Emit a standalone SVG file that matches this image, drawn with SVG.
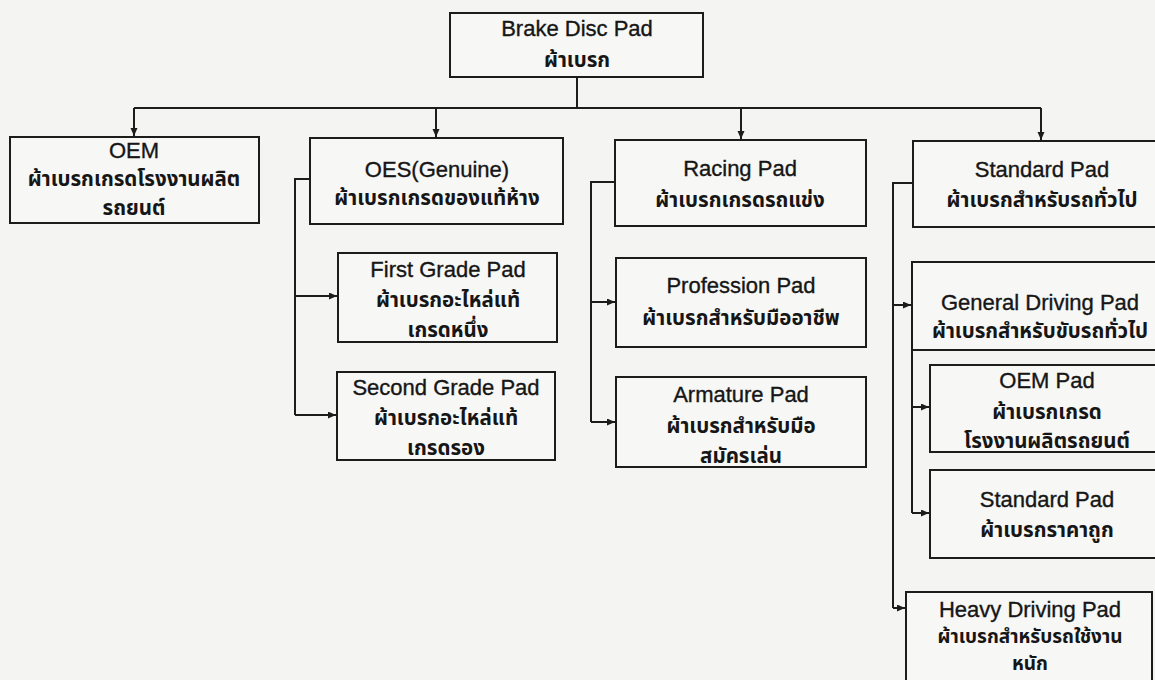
<svg xmlns="http://www.w3.org/2000/svg" width="1155" height="680" viewBox="0 0 1155 680">
  <style>
    .box { fill: #f7f7f5; stroke: #1c1c1c; stroke-width: 2; }
    .wire { fill: none; stroke: #1c1c1c; stroke-width: 2; }
    .en { font-family: "Liberation Sans", Arial, sans-serif; font-size: 22px; fill: #161616; stroke: #161616; stroke-width: 0.35px; text-anchor: middle; }
    .th { font-family: "Noto Sans Thai", "Noto Sans", "DejaVu Sans", sans-serif; font-size: 20.5px; font-weight: bold; fill: #161616; text-anchor: middle; }
    .th.tight { font-size: 19px; }
  </style>
  <defs>
    <marker id="arrow" markerUnits="userSpaceOnUse" markerWidth="9" markerHeight="8" refX="8" refY="3.5" orient="auto">
      <path d="M0,0 L8,3.5 L0,7 z" fill="#1c1c1c"/>
    </marker>
  </defs>

  <rect width="1155" height="680" fill="#f4f4f2"/>

  <!-- connectors -->
  <g id="connectors" class="wire">
    <!-- trunk from the root box to the four categories -->
    <path d="M577,77 V108"/>
    <path d="M134,108 H1041"/>
    <path d="M134,108 V136" marker-end="url(#arrow)"/>
    <path d="M436,108 V137" marker-end="url(#arrow)"/>
    <path d="M741,108 V139" marker-end="url(#arrow)"/>
    <path d="M1041,108 V140" marker-end="url(#arrow)"/>
    <!-- OES branch -->
    <path d="M310,179 H295 V415"/>
    <path d="M295,296 H337" marker-end="url(#arrow)"/>
    <path d="M295,415 H336" marker-end="url(#arrow)"/>
    <!-- Racing branch -->
    <path d="M615,182 H591 V422"/>
    <path d="M591,302 H615" marker-end="url(#arrow)"/>
    <path d="M591,422 H615" marker-end="url(#arrow)"/>
    <!-- Standard branch -->
    <path d="M913,183 H893 V608"/>
    <path d="M893,305 H911" marker-end="url(#arrow)"/>
    <path d="M893,608 H905" marker-end="url(#arrow)"/>
    <!-- General driving sub-branch -->
    <path d="M912,350 V513"/>
    <path d="M912,407 H929" marker-end="url(#arrow)"/>
    <path d="M912,513 H929" marker-end="url(#arrow)"/>
  </g>

  <g id="root">
    <rect class="box" x="450" y="13" width="253" height="64"/>
    <text class="en" x="577" y="36">Brake Disc Pad</text>
    <text class="th" x="577" y="67">ผ้าเบรก</text>
  </g>

  <g id="oem">
    <rect class="box" x="10" y="137" width="249" height="86"/>
    <text class="en" x="134" y="158">OEM</text>
    <text class="th" x="134" y="186">ผ้าเบรกเกรดโรงงานผลิต</text>
    <text class="th" x="134" y="215">รถยนต์</text>
  </g>

  <g id="oes">
    <rect class="box" x="310" y="138" width="253" height="86"/>
    <text class="en" x="437" y="177">OES(Genuine)</text>
    <text class="th" x="437" y="205">ผ้าเบรกเกรดของแท้ห้าง</text>
  </g>

  <g id="first-grade">
    <rect class="box" x="338" y="253" width="219" height="89"/>
    <text class="en" x="448" y="277">First Grade Pad</text>
    <text class="th" x="448" y="307">ผ้าเบรกอะไหล่แท้</text>
    <text class="th" x="448" y="337">เกรดหนึ่ง</text>
  </g>

  <g id="second-grade">
    <rect class="box" x="337" y="372" width="218" height="88"/>
    <text class="en" x="446" y="395">Second Grade Pad</text>
    <text class="th" x="446" y="425">ผ้าเบรกอะไหล่แท้</text>
    <text class="th" x="446" y="455">เกรดรอง</text>
  </g>

  <g id="racing">
    <rect class="box" x="615" y="140" width="251" height="86"/>
    <text class="en" x="740" y="176">Racing Pad</text>
    <text class="th" x="740" y="207">ผ้าเบรกเกรดรถแข่ง</text>
  </g>

  <g id="profession">
    <rect class="box" x="616" y="258" width="250" height="89"/>
    <text class="en" x="741" y="293">Profession Pad</text>
    <text class="th" x="741" y="325">ผ้าเบรกสำหรับมืออาชีพ</text>
  </g>

  <g id="armature">
    <rect class="box" x="616" y="377" width="250" height="90"/>
    <text class="en" x="741" y="402">Armature Pad</text>
    <text class="th" x="741" y="433">ผ้าเบรกสำหรับมือ</text>
    <text class="th" x="741" y="463">สมัครเล่น</text>
  </g>

  <g id="standard">
    <rect class="box" x="913" y="141" width="260" height="86"/>
    <text class="en" x="1042" y="177">Standard Pad</text>
    <text class="th" x="1042" y="207">ผ้าเบรกสำหรับรถทั่วไป</text>
  </g>

  <g id="general-driving">
    <rect class="box" x="912" y="262" width="260" height="88"/>
    <text class="en" x="1040" y="310">General Driving Pad</text>
    <text class="th" x="1040" y="338">ผ้าเบรกสำหรับขับรถทั่วไป</text>
  </g>

  <g id="oem-pad">
    <rect class="box" x="930" y="365" width="240" height="87"/>
    <text class="en" x="1047" y="388">OEM Pad</text>
    <text class="th" x="1047" y="419">ผ้าเบรกเกรด</text>
    <text class="th" x="1047" y="448">โรงงานผลิตรถยนต์</text>
  </g>

  <g id="standard-pad">
    <rect class="box" x="930" y="470" width="240" height="88"/>
    <text class="en" x="1047" y="507">Standard Pad</text>
    <text class="th" x="1047" y="537">ผ้าเบรกราคาถูก</text>
  </g>

  <g id="heavy-driving">
    <rect class="box" x="906" y="592" width="246" height="100"/>
    <text class="en" x="1030" y="617">Heavy Driving Pad</text>
    <text class="th tight" x="1030" y="643">ผ้าเบรกสำหรับรถใช้งาน</text>
    <text class="th tight" x="1030" y="670">หนัก</text>
  </g>
</svg>
